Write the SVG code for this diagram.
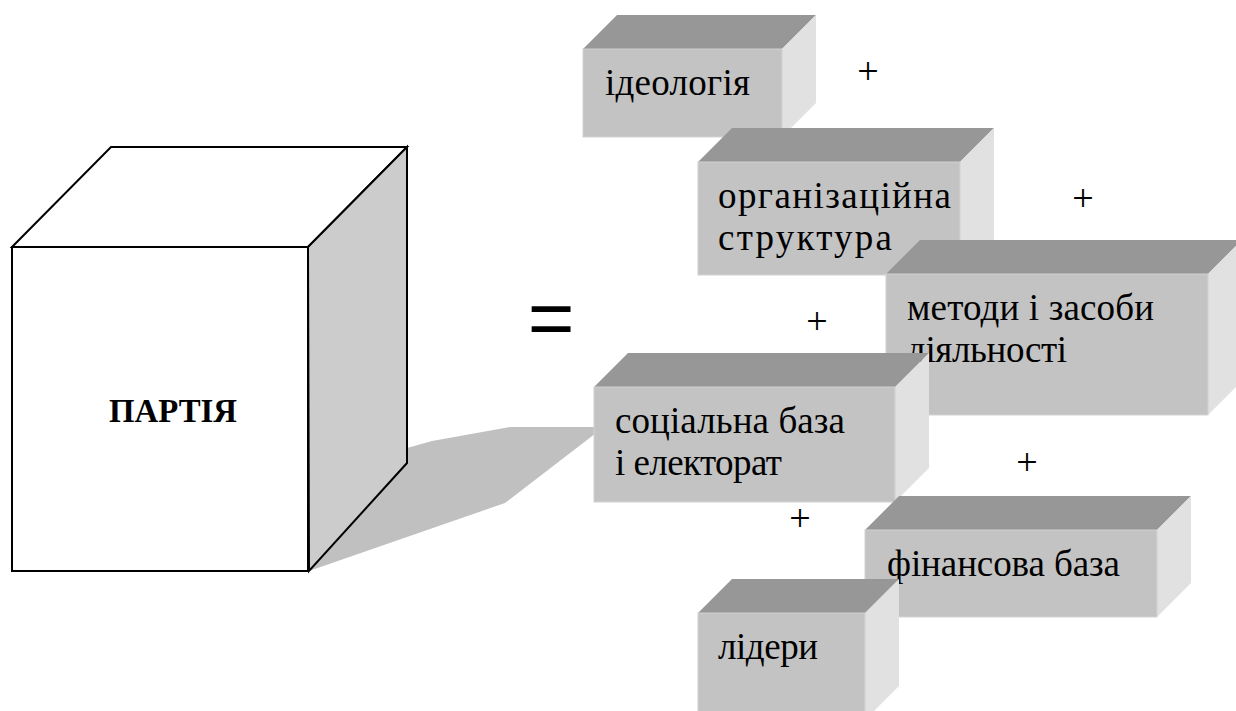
<svg xmlns="http://www.w3.org/2000/svg" width="1236" height="711" viewBox="0 0 1236 711">
<style>
.front{fill:#c3c3c3;stroke:#d2d2d2;stroke-width:1}
.top{fill:#979797}
.side{fill:#e1e1e1}
.lbl{font-family:"Liberation Serif","Liberation Sans",Arial,sans-serif;font-size:37px;fill:#000}
.plus{font-family:"Liberation Serif","Liberation Sans",Arial,sans-serif;font-size:38px;fill:#000;text-anchor:middle}
</style>
<rect width="1236" height="711" fill="#ffffff"/>
<g id="shadow">
<polygon points="309,571 407,448 432,441 510,427 600,427 600,430 505,503" fill="#c0c0c0"/>
</g>
<g id="partiya">
<polygon points="12,247 111,147 407,147 308,247" fill="#ffffff" stroke="#000" stroke-width="2"/>
<polygon points="308,247 407,147 407,463 309,571" fill="#cccccc" stroke="#000" stroke-width="2"/>
<rect x="12" y="247" width="296" height="324" fill="#ffffff" stroke="#000" stroke-width="2"/>
<text x="173" y="422" text-anchor="middle" font-family="Liberation Serif, Liberation Sans, Arial, sans-serif" font-size="33" font-weight="bold" textLength="128" lengthAdjust="spacingAndGlyphs">ПАРТІЯ</text>
</g>
<g id="equals">
<text x="551" y="345" text-anchor="middle" font-family="Liberation Sans, Arial, sans-serif" font-size="80">=</text>
</g>
<g id="connectors"></g>
<g id="box-ideolohiia">
<polygon class="top" points="583,49 617,15 816,15 782,49"/>
<polygon class="side" points="782,49 816,15 816,103 782,137"/>
<rect class="front" x="583" y="49" width="199" height="88"/>
<text class="lbl" x="605" y="95" textLength="145">ідеологія</text>
</g>
<g id="box-orh">
<polygon class="top" points="698,162 732,128 994,128 960,162"/>
<polygon class="side" points="960,162 994,128 994,241 960,275"/>
<rect class="front" x="698" y="162" width="262" height="113"/>
<text class="lbl" x="718" y="208" textLength="233">організаційна</text>
<text class="lbl" x="718" y="250" textLength="174">структура</text>
</g>
<g id="box-metody">
<polygon class="top" points="886,274 920,240 1242,240 1208,274"/>
<polygon class="side" points="1208,274 1242,240 1242,381 1208,415"/>
<rect class="front" x="886" y="274" width="322" height="141"/>
<text class="lbl" x="907" y="320" textLength="247">методи і засоби</text>
<text class="lbl" x="907" y="362" textLength="160">діяльності</text>
</g>
<g id="box-sotsialna">
<polygon class="top" points="594,387 628,353 929,353 895,387"/>
<polygon class="side" points="895,387 929,353 929,468 895,502"/>
<rect class="front" x="594" y="387" width="301" height="115"/>
<text class="lbl" x="615" y="433" textLength="230">соціальна база</text>
<text class="lbl" x="615" y="475" textLength="167">і електорат</text>
</g>
<g id="box-finansova">
<polygon class="top" points="865,530 899,496 1191,496 1157,530"/>
<polygon class="side" points="1157,530 1191,496 1191,583 1157,617"/>
<rect class="front" x="865" y="530" width="292" height="87"/>
<text class="lbl" x="887" y="576" textLength="233">фінансова база</text>
</g>
<g id="box-lidery">
<polygon class="top" points="698,613 732,579 899,579 865,613"/>
<polygon class="side" points="865,613 899,579 899,686 865,720"/>
<rect class="front" x="698" y="613" width="167" height="107"/>
<text class="lbl" x="718" y="659" textLength="100">лідери</text>
</g>
<g id="pluses">
<text class="plus" x="868" y="84">+</text>
<text class="plus" x="1083" y="211">+</text>
<text class="plus" x="817" y="334">+</text>
<text class="plus" x="1027" y="475">+</text>
<text class="plus" x="800" y="531">+</text>
</g>
</svg>
